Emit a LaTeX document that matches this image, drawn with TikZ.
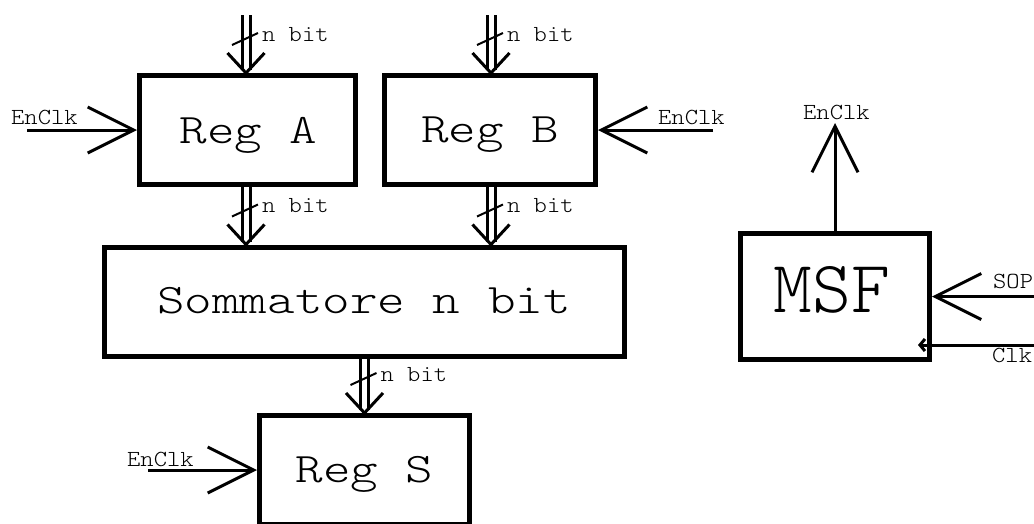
\documentclass[tikz,border=0pt]{standalone}
\usepackage{fontspec}
\usepackage{graphicx}
\newfontfamily\lmtl{lmmonolt10-regular.otf}
\usetikzlibrary{arrows.meta}
% typewriter text, widened to Courier-like proportions
\newcommand\smtxt[1]{\scalebox{1.1}[1]{#1}}
\newcommand\bigtxt[1]{\scalebox{1.25}[1]{#1}}
\begin{document}
\begin{tikzpicture}[x=1pt,y=-1pt,
  box/.style={draw, line width=5pt, inner sep=0pt},
  big/.style={font=\lmtl\fontsize{42}{42}\selectfont, inner sep=0pt, anchor=base},
  small/.style={font=\lmtl\fontsize{23}{23}\selectfont, inner sep=0pt, anchor=base west},
  sig/.style={line width=3pt, -{Straight Barb[length=46pt,width=46pt]}},
  bus/.style={double, double distance=5pt, line width=3pt, shorten >=3pt},
  busmark/.pic={
    \draw[line width=3pt] (-18.5,-20) -- (0,0) -- (18.5,-20);
    \draw[line width=2pt] (-14,-28) -- (12,-40);
    \node[small] (-lbl) at (16,-32) {\smtxt{n bit}};
  }]
\useasboundingbox (0,0) rectangle (1034,523);

% blocks
\node[box, minimum width=216pt, minimum height=109pt] (regA) at (247.5,130) {};
\node[box, minimum width=211pt, minimum height=109pt] (regB) at (490,130) {};
\node[box, minimum width=520pt, minimum height=109.5pt] (sum) at (364.5,301.75) {};
\node[box, minimum width=210pt, minimum height=109pt] (regS) at (364.5,470) {};
\node[box, minimum width=189pt, minimum height=126pt] (msf) at (835,296.5) {};

% block names
\node[big] (tA) at (248.5,143) {\bigtxt{Reg A}};
\node[big] (tB) at (490,142) {\bigtxt{Reg B}};
\node[big] (tSum) at (364,313) {\bigtxt{Sommatore n bit}};
\node[big] (tS) at (364.5,482) {\bigtxt{Reg S}};
\node[big, font=\lmtl\fontsize{74}{74}\selectfont] (tM) at (832,312) {MSF};

% n-bit buses
\coordinate (inA) at (246,15);
\coordinate (inB) at (491,15);
\draw[bus] (inA) -- (inA |- regA.north);
\pic (mA) at (inA |- regA.north) {busmark};
\draw[bus] (inB) -- (inB |- regB.north);
\pic (mB) at (inB |- regB.north) {busmark};
\draw[bus] (regA.south -| inA) -- (sum.north -| inA);
\pic (mAS) at (sum.north -| inA) {busmark};
\draw[bus] (regB.south -| inB) -- (sum.north -| inB);
\pic (mBS) at (sum.north -| inB) {busmark};
\draw[bus] (sum.south -| regS.north) -- (regS.north);
\pic (mSS) at (regS.north) {busmark};

% enable / control signals
\coordinate (eA) at (27,130);
\draw[sig] (eA) -- (regA.west);
\node[small] (lA) at (11,124) {\smtxt{EnClk}};
\coordinate (eB) at (713,130);
\draw[sig] (eB) -- (regB.east);
\node[small] (lB) at (658,124) {\smtxt{EnClk}};
\coordinate (eS) at (148,470);
\draw[sig] (eS) -- (regS.west);
\node[small] (lS) at (127,466.5) {\smtxt{EnClk}};
\coordinate (eM) at (835,123);
\draw[sig] (msf.north) -- (eM);
\node[small] (lM) at (803,119) {\smtxt{EnClk}};
\coordinate (sop) at (1034,296.5);
\draw[sig] (sop) -- (msf.east);
\node[small] (lSOP) at (993,288) {\smtxt{SOP}};
\coordinate (clk) at (1034,345);
\coordinate (clkend) at (918,345);
\draw[line width=3pt, -{Straight Barb[length=5pt,width=12pt]}] (clk) -- (clkend);
\node[small] (lClk) at (992,362) {\smtxt{Clk}};
\end{tikzpicture}
\end{document}
